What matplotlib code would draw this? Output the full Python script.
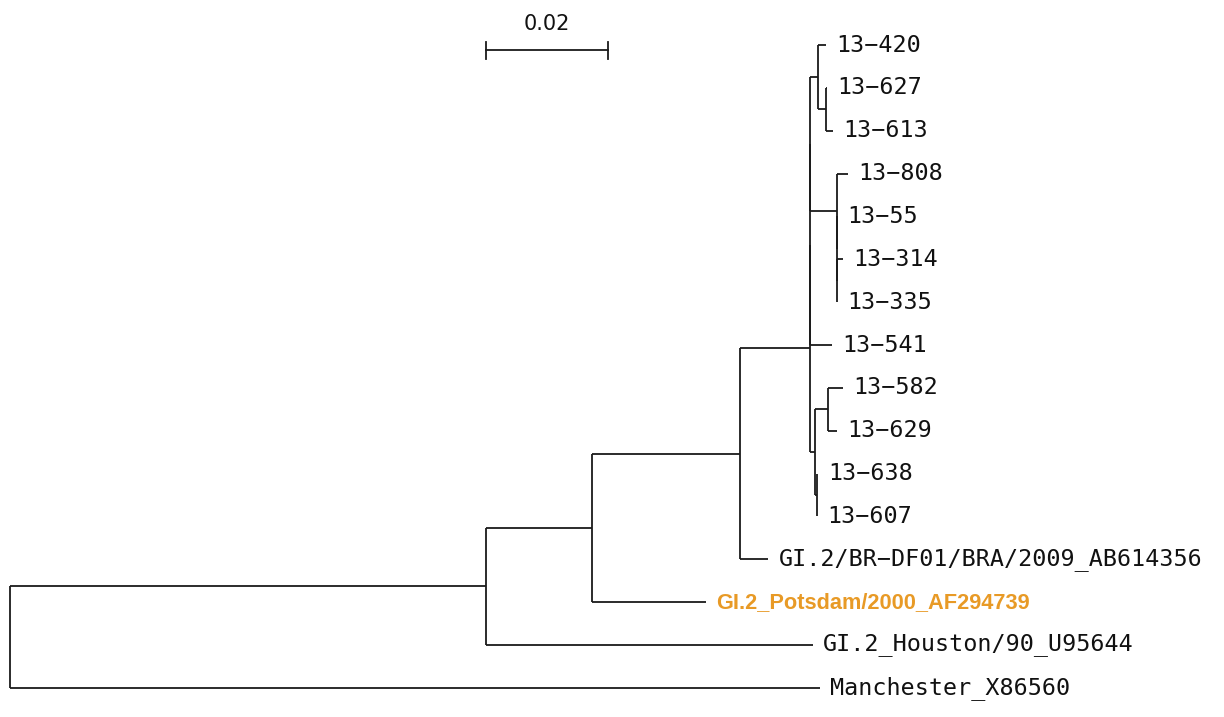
import matplotlib
matplotlib.use("Agg")
import matplotlib.pyplot as plt

plt.rcParams['font.family'] = ['DejaVu Sans Mono', 'DejaVu Sans']

# Tree topology with branch lengths (substitutions per site), Newick format
newick = ("((((((((13\u2212420:0.0013,(13\u2212627:0.0001,13\u2212613:0.0011):0.0013):0.0013,"
          "(13\u2212808:0.0018,(13\u221255:0,(13\u2212314:0.0011,13\u2212335:0):0):0):0.0043):0,"
          "13\u2212541:0.0036):0,"
          "((13\u2212582:0.0025,13\u2212629:0.0015):0.0021,(13\u2212638:0.0001,13\u2212607:0):0.00025):0.0008):0.0115,"
          "GI.2/BR\u2212DF01/BRA/2009_AB614356:0.0046):0.0243,"
          "GI.2_Potsdam/2000_AF294739:0.0187):0.0174,"
          "GI.2_Houston/90_U95644:0.0536):0.0780,"
          "Manchester_X86560:0.1328);")

highlight_label = "GI.2_Potsdam/2000_AF294739"
highlight_color = "#E89A26"
scale_value = 0.02
scale_label = "0.02"


def parse_newick(s):
    s = s.strip().rstrip(';')
    pos = 0

    def parse_node():
        nonlocal pos
        node = {"name": "", "length": 0.0, "children": []}
        if s[pos] == '(':
            pos += 1
            while True:
                node["children"].append(parse_node())
                if s[pos] == ',':
                    pos += 1
                    continue
                if s[pos] == ')':
                    pos += 1
                    break
        start = pos
        while pos < len(s) and s[pos] not in ':,)':
            pos += 1
        node["name"] = s[start:pos]
        if pos < len(s) and s[pos] == ':':
            pos += 1
            start = pos
            while pos < len(s) and s[pos] not in ',)':
                pos += 1
            node["length"] = float(s[start:pos])
        return node

    return parse_node()


root = parse_newick(newick)

leaf_counter = [0]


def layout(node, x_parent, is_root=False):
    node["x"] = x_parent + (0.0 if is_root else node["length"])
    if node["children"]:
        for c in node["children"]:
            layout(c, node["x"])
        node["y"] = (node["children"][0]["y"] + node["children"][-1]["y"]) / 2.0
    else:
        node["y"] = leaf_counter[0]
        leaf_counter[0] += 1


layout(root, 0.0, is_root=True)

unit = 0.02 / 122.0  # data units per pixel
fig = plt.figure(figsize=(12.24, 7.17), dpi=100)
ax = fig.add_axes([0, 0, 1, 1])
ax.set_xlim(-10 * unit, (1224 - 10) * unit)
ax.set_ylim(15.68, -1.05)
ax.axis('off')

lw = 1.3
col = "#1a1a1a"


def draw(node):
    if node["children"]:
        ys = [c["y"] for c in node["children"]]
        ax.plot([node["x"], node["x"]], [min(ys), max(ys)], color=col, lw=lw,
                solid_capstyle='butt')
        for c in node["children"]:
            ax.plot([node["x"], c["x"]], [c["y"], c["y"]], color=col, lw=lw,
                    solid_capstyle='butt')
            draw(c)
    else:
        if node["name"] == highlight_label:
            ax.annotate(node["name"], (node["x"], node["y"]), xytext=(7.5, 0),
                        textcoords='offset points', va='center', ha='left',
                        fontsize=15.7, color=highlight_color, fontweight='bold',
                        family=['Liberation Sans', 'DejaVu Sans'])
        else:
            ax.annotate(node["name"], (node["x"], node["y"]), xytext=(7.5, 0),
                        textcoords='offset points', va='center', ha='left',
                        fontsize=16.8, color="#111111")


draw(root)

# Scale bar
sb_x0 = root["children"][0]["x"]
sb_y = 0.12
ax.plot([sb_x0, sb_x0 + scale_value], [sb_y, sb_y], color=col, lw=lw)
for xe in (sb_x0, sb_x0 + scale_value):
    ax.plot([xe, xe], [sb_y - 0.2, sb_y + 0.2], color=col, lw=lw)
ax.text(sb_x0 + scale_value / 2, sb_y - 0.62, scale_label, ha='center', va='center',
        fontsize=15, color="#111111", family=['DejaVu Sans'])

fig.savefig("out.png", dpi=100)
